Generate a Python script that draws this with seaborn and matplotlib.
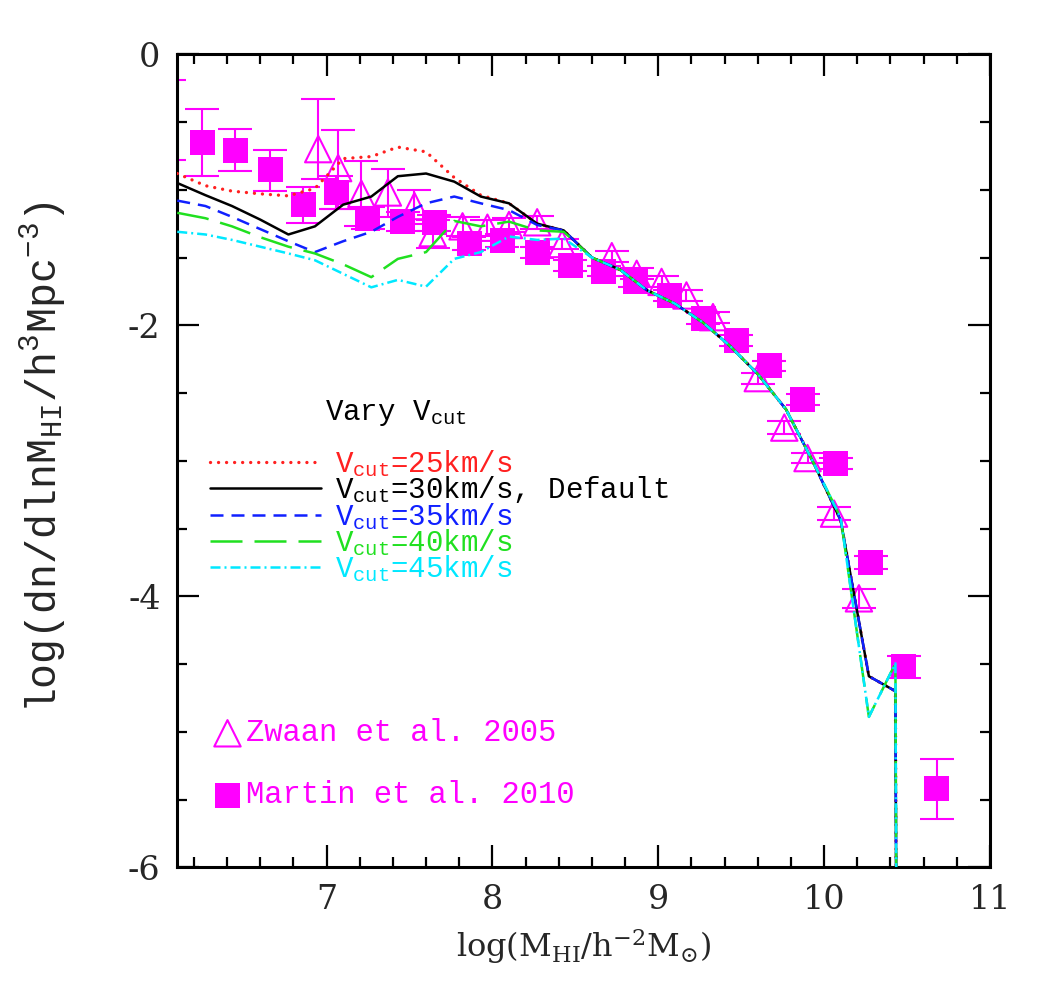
import numpy as np
import pandas as pd
import seaborn as sns
import matplotlib.pyplot as plt
from matplotlib.ticker import MultipleLocator

# model HI mass functions on a shared log(M_HI) grid
grid_x = [6.10, 6.27, 6.43, 6.60, 6.77, 6.93, 7.10, 7.27, 7.43, 7.60, 7.77, 7.93, 8.10, 8.27, 8.43,
          8.60, 8.77, 8.93, 9.10, 9.27, 9.43, 9.60, 9.77, 9.93, 10.10, 10.27, 10.43, 10.60]

# high-mass end (x >= 8.6), nearly identical for all runs; last bin is empty (drops off the plot)
tail_low_vcut = [-1.50, -1.59, -1.74, -1.84, -1.98, -2.15, -2.36, -2.62, -3.00, -3.44, -4.59, -4.70, -60.0]
tail_high_vcut = [-1.50, -1.59, -1.74, -1.84, -1.98, -2.15, -2.36, -2.62, -3.00, -3.42, -4.89, -4.495, -60.0]

vcut25 = [-0.88, -0.97, -1.01, -1.03, -1.045, -0.99, -0.77, -0.755, -0.685, -0.72, -0.91, -1.04, -1.10, -1.25, -1.30] + tail_low_vcut
vcut30 = [-0.95, -1.04, -1.12, -1.22, -1.33, -1.27, -1.11, -1.05, -0.90, -0.88, -0.94, -1.05, -1.10, -1.25, -1.30] + tail_low_vcut
vcut35 = [-1.08, -1.12, -1.20, -1.29, -1.38, -1.46, -1.38, -1.31, -1.20, -1.10, -1.05, -1.10, -1.15, -1.26, -1.30] + tail_low_vcut
vcut40 = [-1.17, -1.21, -1.27, -1.35, -1.42, -1.47, -1.55, -1.645, -1.51, -1.46, -1.23, -1.27, -1.235, -1.30, -1.31] + tail_high_vcut
vcut45 = [-1.31, -1.33, -1.37, -1.42, -1.47, -1.52, -1.62, -1.72, -1.665, -1.715, -1.51, -1.46, -1.345, -1.37, -1.36] + tail_high_vcut

vcut_levels = ['25', '30', '35', '40', '45']
vcut_labels = ['V$_{cut}$=25km/s', 'V$_{cut}$=30km/s, Default', 'V$_{cut}$=35km/s',
               'V$_{cut}$=40km/s', 'V$_{cut}$=45km/s']

# Zwaan et al. 2005 (HIPASS)
zwaan_x = [6.95, 7.07, 7.21, 7.37, 7.53, 7.64, 7.82, 7.97, 8.10, 8.27, 8.42, 8.72, 8.87, 9.02,
           9.17, 9.33, 9.60, 9.76, 9.90, 10.06, 10.21]
zwaan_y = [-0.70, -0.84, -1.03, -1.02, -1.12, -1.32, -1.27, -1.28, -1.26, -1.24, -1.40, -1.49, -1.62, -1.68,
           -1.78, -1.94, -2.39, -2.755, -2.98, -3.39, -4.015]
zwaan_err_hi = [0.37, 0.28, 0.24, 0.17, 0.12, 0.10, 0.07, 0.06, 0.05, 0.05, 0.04, 0.04, 0.04, 0.04,
                0.04, 0.04, 0.04, 0.05, 0.04, 0.05, 0.07]
zwaan_err_lo = [0.22, 0.30, 0.24, 0.18, 0.13, 0.11, 0.07, 0.06, 0.05, 0.05, 0.04, 0.04, 0.04, 0.04,
                0.04, 0.04, 0.04, 0.05, 0.04, 0.05, 0.07]

# Martin et al. 2010 (ALFALFA); first bin lies just left of the plotted range
martin_x = [6.05, 6.25, 6.45, 6.66, 6.86, 7.06, 7.25, 7.46, 7.65, 7.86, 8.06, 8.27, 8.47, 8.67, 8.86,
            9.07, 9.27, 9.47, 9.67, 9.87, 10.07, 10.28, 10.48, 10.68]
martin_y = [-0.47, -0.65, -0.71, -0.85, -1.11, -1.02, -1.21, -1.235, -1.245, -1.395, -1.375, -1.465, -1.56,
            -1.60, -1.68, -1.78, -1.95, -2.11, -2.30, -2.55, -3.02, -3.75, -4.52, -5.42]
martin_err_hi = [0.28, 0.245, 0.155, 0.145, 0.13, 0.12, 0.08, 0.07, 0.06, 0.05, 0.05, 0.04, 0.04,
                 0.04, 0.04, 0.04, 0.04, 0.04, 0.04, 0.04, 0.04, 0.05, 0.08, 0.22]
martin_err_lo = [0.31, 0.245, 0.155, 0.16, 0.135, 0.12, 0.08, 0.07, 0.06, 0.05, 0.05, 0.04, 0.04,
                 0.04, 0.04, 0.04, 0.04, 0.04, 0.04, 0.04, 0.04, 0.05, 0.08, 0.22]

mag = '#ff00ff'
mono = 'Liberation Mono'

sns.set_theme(style='ticks')
plt.rcParams['font.family'] = ['DejaVu Serif', 'DejaVu Sans']
plt.rcParams['mathtext.default'] = 'regular'
plt.rcParams['axes.unicode_minus'] = False

fig = plt.figure(figsize=(10.39, 9.92), dpi=100)
fig.patch.set_facecolor('white')
ax = fig.add_axes([0.1706, 0.1257, 0.7822, 0.8196])

df = pd.DataFrame({
    'logM': grid_x * len(vcut_levels),
    'phi': vcut25 + vcut30 + vcut35 + vcut40 + vcut45,
    'vcut': [v for v in vcut_levels for _ in grid_x],
})

palette = {'25': '#ff2020', '30': 'black', '35': '#1020ff', '40': '#20e020', '45': '#00e8ff'}
dashes = {'25': (0.01, 2.4), '30': '', '35': (5.2, 3.2), '40': (12.8, 4.8), '45': (4, 1.6, 0.8, 1.6)}

sns.lineplot(data=df, x='logM', y='phi', hue='vcut', style='vcut', hue_order=vcut_levels,
             style_order=vcut_levels, palette=palette, dashes=dashes, sort=False, estimator=None,
             linewidth=1.8, legend=False, ax=ax, zorder=5)
model_lines = ax.get_lines()[:5]
model_lines[0].set_dash_capstyle('round')
model_lines[0].set_linewidth(2.4)

# observations
ax.errorbar(zwaan_x, zwaan_y, yerr=[zwaan_err_lo, zwaan_err_hi], fmt='none', ecolor=mag,
            elinewidth=1.5, capsize=12, capthick=1.5, zorder=2)
sns.scatterplot(x=zwaan_x, y=zwaan_y, marker='^', s=19 ** 2, facecolor='none', edgecolor=mag,
                linewidth=1.5, ax=ax, zorder=3)
tri = ax.collections[-1]

ax.errorbar(martin_x, martin_y, yerr=[martin_err_lo, martin_err_hi], fmt='none', ecolor=mag,
            elinewidth=1.5, capsize=12, capthick=1.5, zorder=2)
mx = np.array(martin_x)
my = np.array(martin_y)
inside = mx > 6.1
sns.scatterplot(x=mx[inside], y=my[inside], marker='s', s=18 ** 2, color=mag, edgecolor='none',
                linewidth=0, ax=ax, zorder=3)
sq = ax.collections[-1]

ax.set_xlim(6.1, 11)
ax.set_ylim(-6, 0)
ax.xaxis.set_major_locator(MultipleLocator(1))
ax.xaxis.set_minor_locator(MultipleLocator(0.2))
ax.yaxis.set_major_locator(MultipleLocator(2))
ax.yaxis.set_minor_locator(MultipleLocator(0.5))
ax.tick_params(which='both', direction='in', top=True, right=True, width=1.6, color='black',
               labelsize=24)
ax.tick_params(which='major', length=16)
ax.tick_params(which='minor', length=7.5)
ax.tick_params(axis='x', pad=12)
ax.tick_params(axis='y', pad=12)
for sp in ax.spines.values():
    sp.set_linewidth(2.2)
    sp.set_color('black')

ax.set_xlabel('log(M$_{HI}$/h$^{-2}$M$_{\\odot}$)', fontsize=23, labelpad=8)
ax.set_ylabel('log(dn/dlnM$_{HI}$/h$^{3}$Mpc$^{-3}$)', fontsize=30, family=mono)
ax.yaxis.set_label_coords(-0.135, 0.505)

# legends
ax.text(0.182, 0.550, 'Vary V$_{cut}$', transform=ax.transAxes, fontsize=21, family=mono,
        color='black', va='baseline')
leg1 = ax.legend(handles=model_lines, labels=vcut_labels, loc='upper left', bbox_to_anchor=(0.040, 0.516),
                 frameon=False, prop={'family': mono, 'size': 21}, labelcolor='linecolor',
                 handlelength=3.8, handletextpad=0.5, labelspacing=-0.15, borderpad=0, borderaxespad=0)
ax.add_artist(leg1)
ax.legend(handles=[tri, sq], labels=['Zwaan et al. 2005', 'Martin et al. 2010'], loc='lower left',
          bbox_to_anchor=(0.043, 0.07), frameon=False, prop={'family': mono, 'size': 22},
          labelcolor=mag, handlelength=1.0, handletextpad=0.1, labelspacing=1.05, borderpad=0,
          borderaxespad=0, scatterpoints=1)

fig.savefig('out.png', dpi=100)
